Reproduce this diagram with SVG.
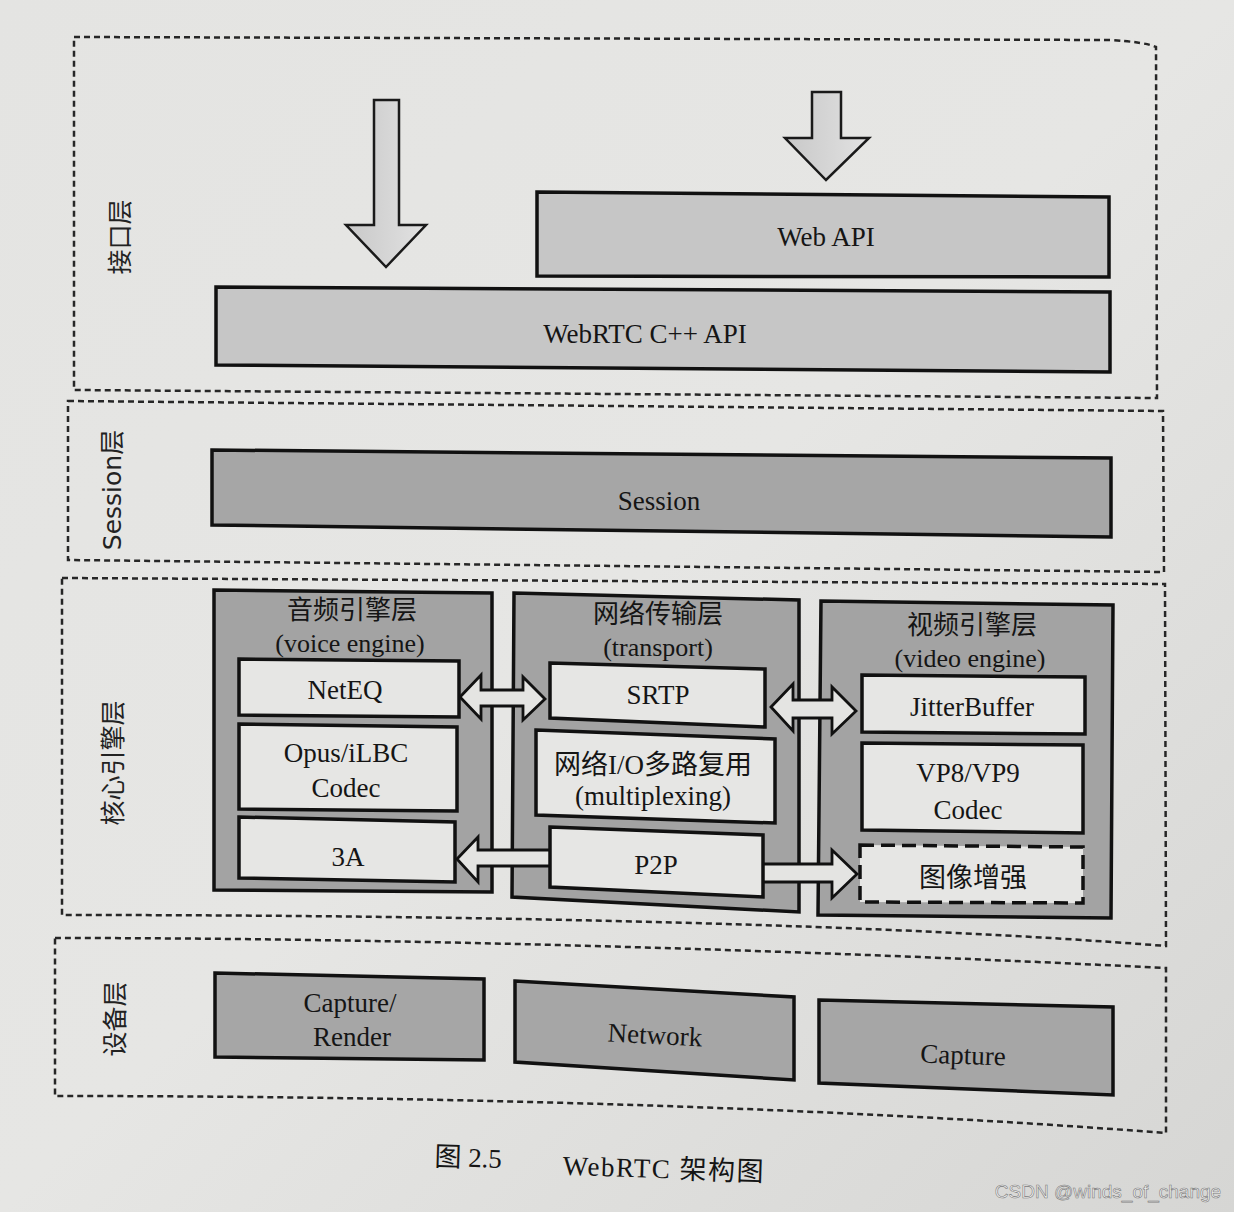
<svg xmlns="http://www.w3.org/2000/svg" width="1234" height="1212" viewBox="0 0 1234 1212">
<defs>
<linearGradient id="page" x1="0" y1="0" x2="1" y2="1">
<stop offset="0" stop-color="#e4e4e2"/>
<stop offset="0.5" stop-color="#e6e6e4"/>
<stop offset="1" stop-color="#d6d6d4"/>
</linearGradient>
<linearGradient id="arr" x1="0" y1="0" x2="1" y2="0">
<stop offset="0" stop-color="#c8c8c8"/>
<stop offset="1" stop-color="#e2e2e2"/>
</linearGradient>
<style>
.layer{fill:none;stroke:#262626;stroke-width:2.5;stroke-dasharray:6 4}
.api{fill:#c6c6c6;stroke:#111;stroke-width:3.5}
.dark{fill:#a6a6a6;stroke:#111;stroke-width:3.5}
.col{fill:#a3a3a3;stroke:#111;stroke-width:3.5}
.inner{fill:#e6e6e4;stroke:#111;stroke-width:3.5}
.dash{fill:#e6e6e4;stroke:#111;stroke-width:3.5;stroke-dasharray:14 7}
.conn{fill:#e4e4e2;stroke:#111;stroke-width:2.8;stroke-linejoin:miter}
.big{fill:url(#arr);stroke:#1a1a1a;stroke-width:2.5}
.t{font-family:"Liberation Serif","Noto Sans CJK SC",serif;font-size:27px;fill:#151515;text-anchor:middle}
.ttl{font-family:"Liberation Serif","Noto Sans CJK SC",serif;font-size:26px;fill:#151515;text-anchor:middle}
.lbl{font-family:"DejaVu Sans","Noto Sans CJK SC",sans-serif;font-size:25px;fill:#222;text-anchor:middle;dominant-baseline:central}
</style>
</defs>
<rect width="1234" height="1212" fill="url(#page)"/>

<g id="layers">
<path id="layer-interface" class="layer" d="M74,37 L1110,40 Q1145,42 1156,47 L1157,398 L74,390 Z"/>
<path id="layer-session" class="layer" d="M68,401 L1163,411 L1164,572 L68,560 Z"/>
<path id="layer-core" class="layer" d="M62,578 L1165,584 L1166,946 C900,925 500,915 62,915 Z"/>
<path id="layer-device" class="layer" d="M55,938 C400,938 800,950 1166,968 L1166,1133 C800,1105 400,1096 55,1096 Z"/>
<text class="lbl" transform="translate(120,237) rotate(-90)" font-size="26">接口层</text>
<text class="lbl" transform="translate(112,490) rotate(-90)" font-size="24">Session层</text>
<text class="lbl" transform="translate(113,763) rotate(-90)" font-size="26">核心引擎层</text>
<text class="lbl" transform="translate(115,1019) rotate(-90)" font-size="25">设备层</text>
</g>

<g id="node-webapi">
<polygon class="api" points="537,192 1109,197 1109,277 537,276"/>
<text class="t" x="826" y="246" font-size="29">Web API</text>
</g>
<g id="node-cppapi">
<polygon class="api" points="216,287 1110,292 1110,372 216,365"/>
<text class="t" x="645" y="343" font-size="28">WebRTC C++ API</text>
</g>
<g id="node-session">
<polygon class="dark" points="212,450 1111,458 1111,537 212,525"/>
<text class="t" x="659" y="510" font-size="28">Session</text>
</g>

<g id="node-voice">
<polygon class="col" points="214,590 492,593 492,892 214,890"/>
<text class="ttl" x="352" y="619">音频引擎层</text>
<text class="ttl" x="350" y="652">(voice engine)</text>
</g>
<g id="node-transport">
<polygon class="col" points="514,593 799,600 799,912 512,897"/>
<text class="ttl" x="658" y="623">网络传输层</text>
<text class="ttl" x="658" y="656">(transport)</text>
</g>
<g id="node-video">
<polygon class="col" points="821,601 1113,605 1111,918 818,915"/>
<text class="ttl" x="972" y="634">视频引擎层</text>
<text class="ttl" x="970" y="667">(video engine)</text>
</g>

<g id="connectors">
<path class="big" d="M374,100 L399,100 L399,225 L426,225 L386,267 L346,225 L374,225 Z"/>
<path class="big" d="M812,92 L841,92 L841,138 L869,138 L826,180 L785,138 L812,138 Z"/>
<path class="conn" d="M460,697 L481,675 L481,690 L523,690 L523,677 L545,699 L523,720 L523,706 L481,706 L481,719 Z"/>
<path class="conn" d="M771,707 L793,684 L793,700 L832,700 L832,687 L856,711 L832,734 L832,718 L793,718 L793,731 Z"/>
<path class="conn" d="M457,859 L478,837 L478,850 L551,850 L551,866 L478,866 L478,882 Z"/>
<path class="conn" d="M762,864 L832,864 L832,850 L857,874 L832,898 L832,882 L762,882 Z"/>
</g>

<g id="node-neteq">
<polygon class="inner" points="239,659 459,661 459,717 239,715"/>
<text class="t" x="345" y="699">NetEQ</text>
</g>
<g id="node-opus">
<polygon class="inner" points="239,724 457,727 457,811 239,809"/>
<text class="t" x="346" y="762">Opus/iLBC</text>
<text class="t" x="346" y="797">Codec</text>
</g>
<g id="node-3a">
<polygon class="inner" points="239,817 455,822 455,882 239,878"/>
<text class="t" x="348" y="866">3A</text>
</g>
<g id="node-srtp">
<polygon class="inner" points="550,663 765,669 765,727 550,718"/>
<text class="t" x="658" y="704">SRTP</text>
</g>
<g id="node-mux">
<polygon class="inner" points="536,730 775,739 775,823 536,815"/>
<text class="t" x="653" y="774">网络I/O多路复用</text>
<text class="t" x="653" y="805" font-size="28">(multiplexing)</text>
</g>
<g id="node-p2p">
<polygon class="inner" points="550,827 763,835 763,897 550,887"/>
<text class="t" x="656" y="874">P2P</text>
</g>
<g id="node-jitter">
<polygon class="inner" points="862,675 1085,677 1085,734 862,732"/>
<text class="t" x="972" y="716" font-size="28">JitterBuffer</text>
</g>
<g id="node-vp">
<polygon class="inner" points="862,743 1083,745 1083,833 862,830"/>
<text class="t" x="968" y="782">VP8/VP9</text>
<text class="t" x="968" y="819">Codec</text>
</g>
<g id="node-enhance">
<polygon class="dash" points="860,845 1083,847 1083,903 860,902"/>
<text class="t" x="973" y="887" font-size="28">图像增强</text>
</g>

<g id="node-capture-render">
<polygon class="dark" points="215,973 484,979 484,1060 215,1057"/>
<text class="t" x="350" y="1012">Capture/</text>
<text class="t" x="352" y="1046">Render</text>
</g>
<g id="node-network">
<polygon class="dark" points="515,981 794,997 794,1080 515,1062"/>
<text class="t" x="655" y="1044" transform="rotate(3 655 1035)">Network</text>
</g>
<g id="node-capture">
<polygon class="dark" points="819,1000 1113,1007 1113,1095 819,1083"/>
<text class="t" x="963" y="1064" transform="rotate(2 963 1055)">Capture</text>
</g>

<g id="caption" transform="rotate(1.8 600 1165)">
<text class="t" x="468" y="1171" font-size="31">图 2.5</text>
<text class="t" x="664" y="1176" font-size="33" letter-spacing="1.5">WebRTC 架构图</text>
</g>
<text x="1108" y="1198" font-family="Liberation Sans,Arial,sans-serif" font-size="19" fill="#f4f4f4" stroke="#7a7a7a" stroke-width="0.6" text-anchor="middle">CSDN @winds_of_change</text>
</svg>
